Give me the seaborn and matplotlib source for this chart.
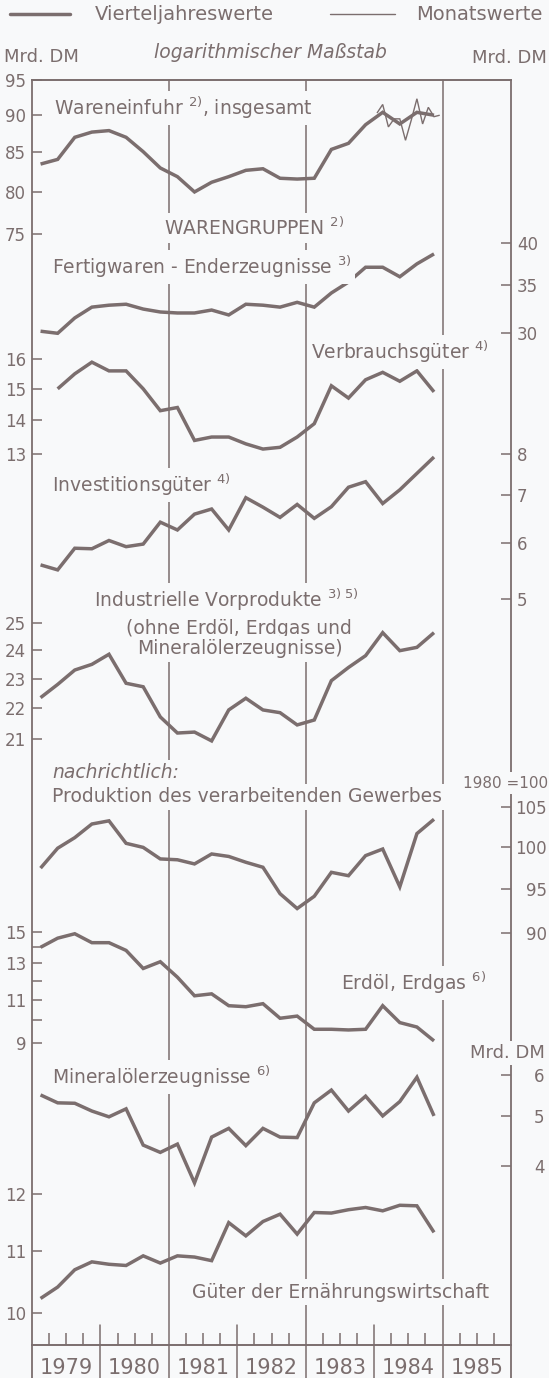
import numpy as np
import pandas as pd
import matplotlib
matplotlib.use('Agg')
import matplotlib.pyplot as plt
import seaborn as sns
from matplotlib.lines import Line2D
from matplotlib.ticker import NullLocator, FixedLocator, NullFormatter

# ---- data (Mrd. DM, log scale; quarterly values 1979Q1-1984Q4) ----
years = [1979, 1980, 1981, 1982, 1983, 1984, 1985]
quarters = [f'{y}Q{q}' for y in range(1979, 1985) for q in range(1, 5)]
months_1984 = [f'1984-{m:02d}' for m in range(1, 13)]

wareneinfuhr = [83.5, 84.1, 87.0, 87.7, 87.9, 87.0, 85.1, 83.0, 81.9, 80.0, 81.2, 81.9,
                82.7, 82.9, 81.7, 81.6, 81.7, 85.4, 86.2, 88.7, 90.4, 88.8, 90.4, 90.0]
wareneinfuhr_monat = [90.3, 91.5, 88.4, 89.5, 89.5, 86.6, 89.3, 92.3, 88.8, 91.1, 89.8, 90.0]
fertigwaren = [30.2, 30.0, 31.5, 32.6, 32.8, 32.9, 32.4, 32.1, 32.0, 32.0, 32.3, 31.8,
               32.9, 32.8, 32.6, 33.1, 32.6, 34.1, 35.3, 37.0, 37.0, 35.9, 37.4, 38.6]
# Verbrauchsgueter starts in 1979Q2
verbrauchsgueter = [15.0, 15.5, 15.9, 15.6, 15.6, 15.0, 14.3, 14.4, 13.4, 13.5, 13.5,
                    13.3, 13.15, 13.2, 13.5, 13.9, 15.1, 14.7, 15.3, 15.55, 15.25, 15.6, 14.9]
investitionsgueter = [5.59, 5.50, 5.90, 5.89, 6.05, 5.93, 5.98, 6.42, 6.26, 6.59, 6.70, 6.26,
                      6.95, 6.74, 6.52, 6.80, 6.50, 6.75, 7.19, 7.32, 6.82, 7.13, 7.52, 7.93]
vorprodukte = [22.35, 22.8, 23.3, 23.5, 23.86, 22.84, 22.72, 21.71, 21.19, 21.22, 20.94, 21.94,
               22.33, 21.94, 21.85, 21.45, 21.61, 22.93, 23.39, 23.81, 24.65, 23.99, 24.11, 24.65]
produktion = [97.4, 99.8, 101.1, 102.8, 103.2, 100.4, 99.9, 98.5, 98.4, 97.9, 99.1, 98.8,
              98.1, 97.5, 94.4, 92.7, 94.1, 96.9, 96.5, 98.9, 99.7, 95.2, 101.6, 103.4]
erdoel_erdgas = [14.0, 14.6, 14.9, 14.3, 14.3, 13.8, 12.7, 13.1, 12.2, 11.2, 11.3, 10.7,
                 10.65, 10.8, 10.1, 10.2, 9.6, 9.6, 9.57, 9.6, 10.7, 9.9, 9.7, 9.1]
mineraloel = [5.49, 5.30, 5.29, 5.11, 4.98, 5.16, 4.39, 4.25, 4.41, 3.71, 4.55, 4.73,
              4.38, 4.73, 4.55, 4.54, 5.30, 5.61, 5.11, 5.46, 5.00, 5.33, 5.94, 5.00]
ernaehrung = [10.23, 10.41, 10.69, 10.82, 10.78, 10.76, 10.92, 10.80, 10.92, 10.90, 10.84, 11.49,
              11.26, 11.51, 11.64, 11.29, 11.67, 11.66, 11.72, 11.76, 11.70, 11.80, 11.79, 11.32]

qx = pd.PeriodIndex(quarters, freq='Q')
x_q = qx.year + (qx.quarter - 0.5) / 4
mx = pd.PeriodIndex(months_1984, freq='M')
x_m = mx.year + (mx.month - 0.5) / 12

# ---- style ----
W, H = 549, 1378
AX_TOP, AX_BOT, AX_L, AX_R = 80, 1345, 32, 511
col = '#7b6e6e'
bg = '#f8f9fa'
sns.set_style('white')
plt.rcParams['font.family'] = ['DejaVu Sans']

fig = plt.figure(figsize=(W / 100, H / 100), dpi=100, facecolor=bg)
base = fig.add_axes([AX_L / W, 1 - AX_BOT / H, (AX_R - AX_L) / W, (AX_BOT - AX_TOP) / H])
base.set_facecolor(bg)
base.set_xlim(1979, 1986)
base.set_yticks([])
for s in ['left', 'right']:
    base.spines[s].set_visible(False)
for s in ['top', 'bottom']:
    base.spines[s].set_color(col)
    base.spines[s].set_linewidth(1.4)

band = -(H - AX_BOT) / (AX_BOT - AX_TOP)
for yr in [1979, 1981, 1983, 1985, 1986]:
    base.axvline(yr, ymin=band, ymax=1, color=col, lw=1.3 if yr in (1979, 1986) else 1.1, clip_on=False)
for yr in [1980, 1982, 1984]:
    base.axvline(yr, ymin=band, ymax=20 / (AX_BOT - AX_TOP), color=col, lw=1.1, clip_on=False)


def series_axis(side, v_top, p_top, v_bot, p_bot, ticks, labels, pad=4.3, ha=None):
    a = base.twinx()
    s = (np.log(v_top) - np.log(v_bot)) / (p_bot - p_top)
    lo = np.exp(np.log(v_top) - s * (AX_BOT - p_top))
    hi = np.exp(np.log(v_top) + s * (p_top - AX_TOP))
    a.set_yscale('log')
    a.set_ylim(lo, hi)
    if side == 'left':
        a.yaxis.tick_left()
    else:
        a.yaxis.tick_right()
    a.set_yticks(ticks, labels=labels)
    a.yaxis.set_minor_locator(NullLocator())
    a.tick_params(axis='y', which='major', direction='in', length=7.2, width=1.1,
                  color=col, labelcolor=col, labelsize=12, pad=pad)
    if ha:
        for t in a.get_yticklabels():
            t.set_ha(ha)
    for sp in a.spines.values():
        sp.set_visible(False)
    a.grid(False)
    return a


def draw(a, x, y, lw=2.5):
    sns.lineplot(x=x, y=y, ax=a, color=col, linewidth=lw, legend=False,
                 solid_joinstyle='miter', solid_capstyle='butt')
    a.set_xlabel('')
    a.set_ylabel('')


a1 = series_axis('left', 95, 80, 75, 234, [75, 80, 85, 90, 95], ['75', '80', '85', '90', '95'])
draw(a1, x_q, wareneinfuhr)
draw(a1, x_m, wareneinfuhr_monat, lw=1.0)

a2 = series_axis('right', 40, 242.7, 30, 333.3, [30, 35, 40], ['30', '35', '40'])
draw(a2, x_q, fertigwaren)

a3 = series_axis('left', 16, 359.3, 13, 454.3, [13, 14, 15, 16], ['13', '14', '15', '16'])
draw(a3, x_q[1:], verbrauchsgueter)

a4 = series_axis('right', 8, 454.3, 5, 599.3, [5, 6, 7, 8], ['5', '6', '7', '8'])
draw(a4, x_q, investitionsgueter)

a5 = series_axis('left', 25, 623.3, 21, 739, [21, 22, 23, 24, 25], ['21', '22', '23', '24', '25'])
draw(a5, x_q, vorprodukte)

a6 = series_axis('right', 105, 806.7, 90, 932.7, [90, 95, 100, 105], ['90', '95', '100', '105'],
                 pad=26, ha='right')
draw(a6, x_q, produktion)

a7 = series_axis('left', 15, 932.3, 9, 1043.3, [9, 10, 11, 12, 13, 14, 15],
                 ['9', '', '11', '', '13', '', '15'])
draw(a7, x_q, erdoel_erdgas)

a8 = series_axis('right', 6, 1075, 4, 1166, [4, 5, 6], ['4', '5', '6'], pad=24, ha='right')
draw(a8, x_q, mineraloel)

a9 = series_axis('left', 12, 1194.3, 10, 1313.3, [10, 11, 12], ['10', '11', '12'])
draw(a9, x_q, ernaehrung)

# time axis: set after plotting, the twins share the x tickers
base.set_xlim(1979, 1986)
qticks = [y + q / 4 for y in years for q in (1, 2, 3)]
base.xaxis.set_major_locator(FixedLocator(qticks))
base.xaxis.set_major_formatter(NullFormatter())
base.xaxis.set_minor_locator(NullLocator())
base.tick_params(axis='x', which='major', direction='in', length=8.6, width=1.1, color=col,
                 bottom=True)
year_y = -(1368 - AX_BOT) / (AX_BOT - AX_TOP)
for y in years:
    base.text(y + 0.5, year_y, str(y), transform=base.get_xaxis_transform(),
              ha='center', va='center', color=col, fontsize=15,
              family=['Liberation Sans Narrow', 'DejaVu Sans'])


def label(px, py, s, ha='left', size=13, **kw):
    fig.text(px / W, 1 - py / H, s, ha=ha, va='center', color=col, fontsize=size,
             bbox=dict(facecolor=bg, edgecolor='none', pad=2.5), zorder=5, **kw)


# legend
fig.add_artist(Line2D([10 / W, 70 / W], [1 - 14 / H] * 2, color=col, lw=2.5))
fig.add_artist(Line2D([330 / W, 395 / W], [1 - 14 / H] * 2, color=col, lw=1.0))
label(95, 14, 'Vierteljahreswerte', size=14)
label(416, 14, 'Monatswerte', size=14)

label(4, 57, 'Mrd. DM')
label(154, 53, 'logarithmischer Maßstab', style='italic', size=13.5)
label(472, 58, 'Mrd. DM')

label(54, 108, r'Wareneinfuhr $^{2)}$, insgesamt', size=13.5)
label(164, 228, r'WARENGRUPPEN $^{2)}$', size=13.5)
label(52, 267, r'Fertigwaren - Enderzeugnisse $^{3)}$', size=13.5)
label(311, 352, r'Verbrauchsgüter $^{4)}$', size=13.5)
label(52, 485, r'Investitionsgüter $^{4)}$', size=13.5)
label(94, 600, r'Industrielle Vorprodukte $^{3)\;5)}$', size=13.5)
label(239, 628, '(ohne Erdöl, Erdgas und', ha='center', size=13.5)
label(240, 649, 'Mineralölerzeugnisse)', ha='center', size=13.5)
label(52, 773, 'nachrichtlich:', style='italic', size=13.5)
label(52, 797, 'Produktion des verarbeitenden Gewerbes', size=13.5)
label(463, 783, '1980 =100', size=11)
label(341, 983, r'Erdöl, Erdgas $^{6)}$', size=13.5)
label(470, 1053, 'Mrd. DM')
label(52, 1077, r'Mineralölerzeugnisse $^{6)}$', size=13.5)
label(192, 1292, 'Güter der Ernährungswirtschaft', size=13.5)

fig.savefig('out.png', dpi=100, facecolor=bg)
